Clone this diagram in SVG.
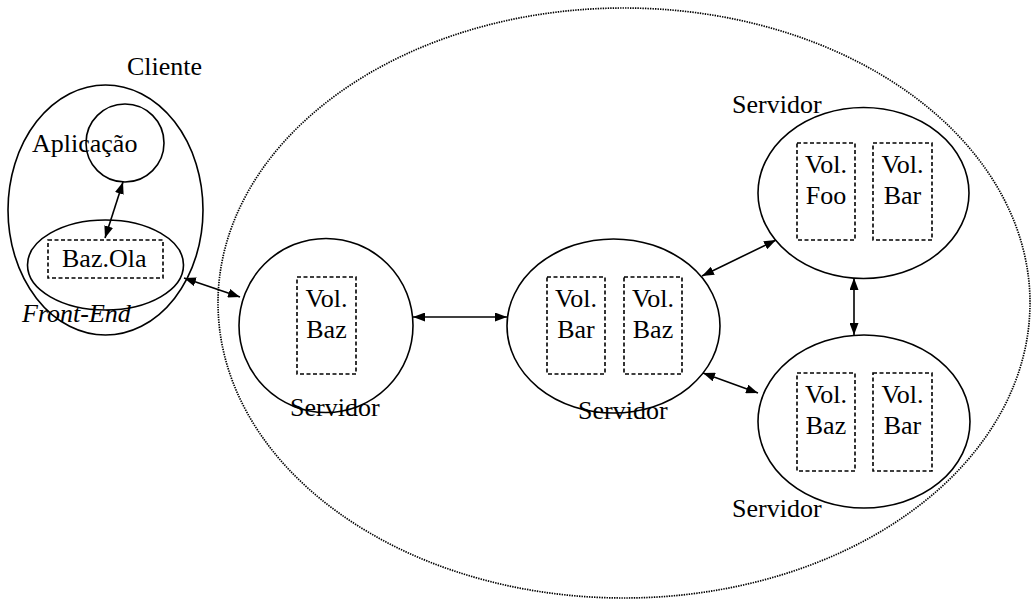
<svg xmlns="http://www.w3.org/2000/svg" width="1032" height="605" viewBox="0 0 1032 605">
  <style>
    .shape { fill: none; stroke: #000; stroke-width: 1.6; }
    .vol { fill: none; stroke: #000; stroke-width: 1.6; stroke-dasharray: 4 2.5; }
    .cloud { fill: none; stroke: #000; stroke-width: 1.7; stroke-dasharray: 1.4 1.1; }
    .link { fill: none; stroke: #000; stroke-width: 1.6; marker-start: url(#head); marker-end: url(#head); }
    text { font-family: "Liberation Serif", "Times New Roman", "DejaVu Serif", serif; font-size: 26px; fill: #000; }
  </style>
  <defs>
    <marker id="head" viewBox="0 0 12 9" refX="12" refY="4.5" markerWidth="12" markerHeight="9" markerUnits="userSpaceOnUse" orient="auto-start-reverse">
      <path d="M0,0 L12,4.5 L0,9 Z" fill="#000"/>
    </marker>
  </defs>

  <rect width="1032" height="605" fill="#fff"/>

  <!-- server domain boundary -->
  <ellipse id="domain" class="cloud" cx="624" cy="303" rx="406" ry="295"/>

  <!-- client -->
  <g id="client">
    <ellipse class="shape" cx="105.5" cy="210" rx="97.5" ry="125"/>
    <text x="127" y="75">Cliente</text>
  </g>
  <g id="app">
    <circle class="shape" cx="125" cy="143" r="39"/>
    <text x="32" y="152">Aplicação</text>
  </g>
  <g id="frontend">
    <ellipse class="shape" cx="105.5" cy="265" rx="78" ry="45"/>
    <rect class="vol" x="48" y="240" width="115" height="38"/>
    <text x="62" y="267">Baz.Ola</text>
    <text x="22" y="322" font-style="italic">Front-End</text>
  </g>

  <!-- servers -->
  <g id="server1">
    <circle class="shape" cx="326" cy="325.5" r="87"/>
    <rect class="vol" x="297" y="277" width="59" height="97"/>
    <text x="326.5" y="307" text-anchor="middle">Vol.</text>
    <text x="326.5" y="338" text-anchor="middle">Baz</text>
    <text x="290" y="416">Servidor</text>
  </g>
  <g id="server2">
    <ellipse class="shape" cx="613.5" cy="326" rx="106.5" ry="87"/>
    <rect class="vol" x="547" y="277" width="58" height="97"/>
    <text x="576" y="307" text-anchor="middle">Vol.</text>
    <text x="576" y="338" text-anchor="middle">Bar</text>
    <rect class="vol" x="624" y="277" width="58" height="97"/>
    <text x="653" y="307" text-anchor="middle">Vol.</text>
    <text x="653" y="338" text-anchor="middle">Baz</text>
    <text x="578" y="419">Servidor</text>
  </g>
  <g id="server3">
    <ellipse class="shape" cx="863.5" cy="193" rx="105.5" ry="85.5"/>
    <rect class="vol" x="797" y="143" width="58" height="97"/>
    <text x="826" y="173" text-anchor="middle">Vol.</text>
    <text x="826" y="204" text-anchor="middle">Foo</text>
    <rect class="vol" x="873" y="143" width="59" height="97"/>
    <text x="902.5" y="173" text-anchor="middle">Vol.</text>
    <text x="902.5" y="204" text-anchor="middle">Bar</text>
    <text x="732" y="113">Servidor</text>
  </g>
  <g id="server4">
    <ellipse class="shape" cx="864" cy="421.5" rx="106" ry="86.5"/>
    <rect class="vol" x="797" y="373" width="58" height="98"/>
    <text x="826" y="403" text-anchor="middle">Vol.</text>
    <text x="826" y="434" text-anchor="middle">Baz</text>
    <rect class="vol" x="873" y="373" width="59" height="98"/>
    <text x="902.5" y="403" text-anchor="middle">Vol.</text>
    <text x="902.5" y="434" text-anchor="middle">Bar</text>
    <text x="732" y="517">Servidor</text>
  </g>

  <!-- connectors -->
  <g id="connectors">
    <line class="link" x1="123" y1="182" x2="105" y2="238"/>
    <line class="link" x1="184" y1="278" x2="240" y2="297"/>
    <line class="link" x1="413" y1="317" x2="507" y2="317"/>
    <line class="link" x1="702" y1="276" x2="776" y2="240"/>
    <line class="link" x1="703" y1="373" x2="758" y2="393"/>
    <line class="link" x1="854" y1="278" x2="854" y2="335"/>
  </g>
</svg>
